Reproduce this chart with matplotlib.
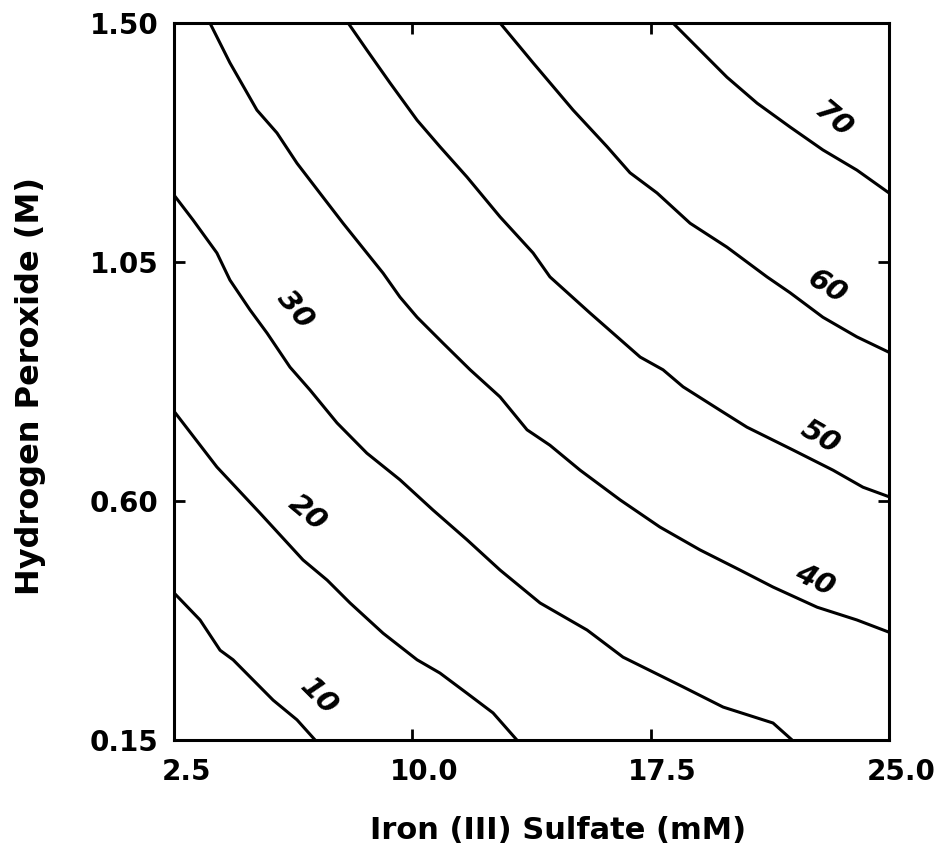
import numpy as np
import matplotlib
matplotlib.use("Agg")
import matplotlib.pyplot as plt
import matplotlib.transforms as mtransforms

# contour levels (percent) and the traced lines, x = iron (III) sulfate (mM), y = H2O2 (M)
levels = [10, 20, 30, 40, 50, 60, 70]

c10_x = [2.5, 3.32, 3.95, 4.36, 4.89, 5.62, 6.37, 6.94]
c10_y = [0.427, 0.376, 0.319, 0.301, 0.269, 0.225, 0.188, 0.15]

c20_x = [2.5, 3.85, 5.21, 6.56, 7.32, 8.04, 9.08, 10.15, 10.87, 11.72, 12.54, 13.29]
c20_y = [0.769, 0.664, 0.577, 0.489, 0.451, 0.408, 0.351, 0.301, 0.276, 0.238, 0.201, 0.15]

c30_x = [2.5, 3.10, 3.85, 4.26, 4.89, 5.43, 6.15, 6.78, 7.63, 8.57, 9.61, 10.65,
         11.72, 12.76, 14.02, 15.50, 16.63, 18.52, 19.78, 21.35, 21.95]
c30_y = [1.176, 1.129, 1.067, 1.016, 0.960, 0.916, 0.852, 0.809, 0.747, 0.690, 0.640, 0.583,
         0.527, 0.470, 0.408, 0.357, 0.306, 0.250, 0.212, 0.182, 0.15]

c40_x = [3.63, 4.26, 5.11, 5.74, 6.37, 7.19, 7.82, 8.57, 9.08, 9.61, 10.15, 10.97, 11.82,
         12.76, 13.61, 14.33, 15.28, 16.54, 17.79, 19.05, 20.31, 21.35, 22.74, 23.99, 25.0]
c40_y = [1.50, 1.425, 1.336, 1.293, 1.236, 1.172, 1.123, 1.067, 1.029, 0.984, 0.946, 0.897, 0.847,
         0.796, 0.734, 0.705, 0.658, 0.602, 0.551, 0.508, 0.470, 0.438, 0.400, 0.376, 0.353]

c50_x = [7.98, 8.57, 9.30, 10.15, 10.87, 11.72, 12.76, 13.80, 14.33, 15.59, 17.17, 17.89,
         18.52, 19.68, 20.53, 21.98, 23.24, 24.18, 25.0]
c50_y = [1.50, 1.449, 1.387, 1.317, 1.267, 1.210, 1.135, 1.067, 1.022, 0.954, 0.871, 0.847,
         0.815, 0.771, 0.739, 0.696, 0.658, 0.626, 0.608]

c60_x = [12.76, 13.80, 15.06, 16.13, 16.85, 17.70, 18.74, 19.90, 21.16, 21.89, 22.92, 23.99, 25.0]
c60_y = [1.50, 1.425, 1.336, 1.267, 1.218, 1.180, 1.123, 1.078, 1.022, 0.992, 0.946, 0.909, 0.880]

c70_x = [18.20, 19.05, 19.90, 20.85, 21.89, 22.92, 23.99, 25.0]
c70_y = [1.50, 1.449, 1.398, 1.349, 1.304, 1.261, 1.223, 1.180]

curves = [(c10_x, c10_y), (c20_x, c20_y), (c30_x, c30_y), (c40_x, c40_y),
          (c50_x, c50_y), (c60_x, c60_y), (c70_x, c70_y)]

# where the level numbers sit, and their tilt
label_x = [7.05, 6.70, 6.30, 22.67, 22.83, 23.05, 23.24]
label_y = [0.231, 0.577, 0.960, 0.451, 0.720, 1.003, 1.317]
label_rot = [-45, -40, -50, -25, -30, -32, -40]

xticks = [2.5, 10.0, 17.5, 25.0]
yticks = [0.15, 0.60, 1.05, 1.50]

fig = plt.figure(figsize=(9.42, 8.61), dpi=100)
ax = fig.add_axes([174/942, 1 - 740/861, 715/942, 717/861])

for (cx, cy) in curves:
    ax.plot(cx, cy, color='k', lw=2.2, solid_capstyle='butt')

for lev, lx, ly, rot in zip(levels, label_x, label_y, label_rot):
    ax.text(lx, ly, str(lev), fontsize=21, fontweight='bold', fontstyle='italic',
            rotation=rot, rotation_mode='anchor', ha='center', va='center')

ax.set_xlim(2.5, 25.0)
ax.set_ylim(0.15, 1.50)
ax.set_xticks(xticks)
ax.set_yticks(yticks)
ax.set_xticklabels(['%.1f' % v for v in xticks])
ax.set_yticklabels(['%.2f' % v for v in yticks])
ax.tick_params(direction='in', length=8, width=2, top=True, right=True,
               labelsize=20)
ax.tick_params(axis='x', pad=13)
ax.tick_params(axis='y', pad=11)
for lab in ax.get_xticklabels() + ax.get_yticklabels():
    lab.set_fontweight('bold')

# x tick labels sit a little right of their ticks in the original
shift = mtransforms.ScaledTranslation(12/100, 0, fig.dpi_scale_trans)
for lab in ax.get_xticklabels():
    lab.set_transform(lab.get_transform() + shift)

for sp in ax.spines.values():
    sp.set_linewidth(2.2)

ax.set_xlabel('Iron (III) Sulfate (mM)', fontsize=22, fontweight='bold', va='center')
ax.set_ylabel('Hydrogen Peroxide (M)', fontsize=23, fontweight='bold', va='center')
ax.xaxis.set_label_coords(0.537, -0.126)
ax.yaxis.set_label_coords(-0.200, 0.494)

fig.savefig('out.png', dpi=100)
